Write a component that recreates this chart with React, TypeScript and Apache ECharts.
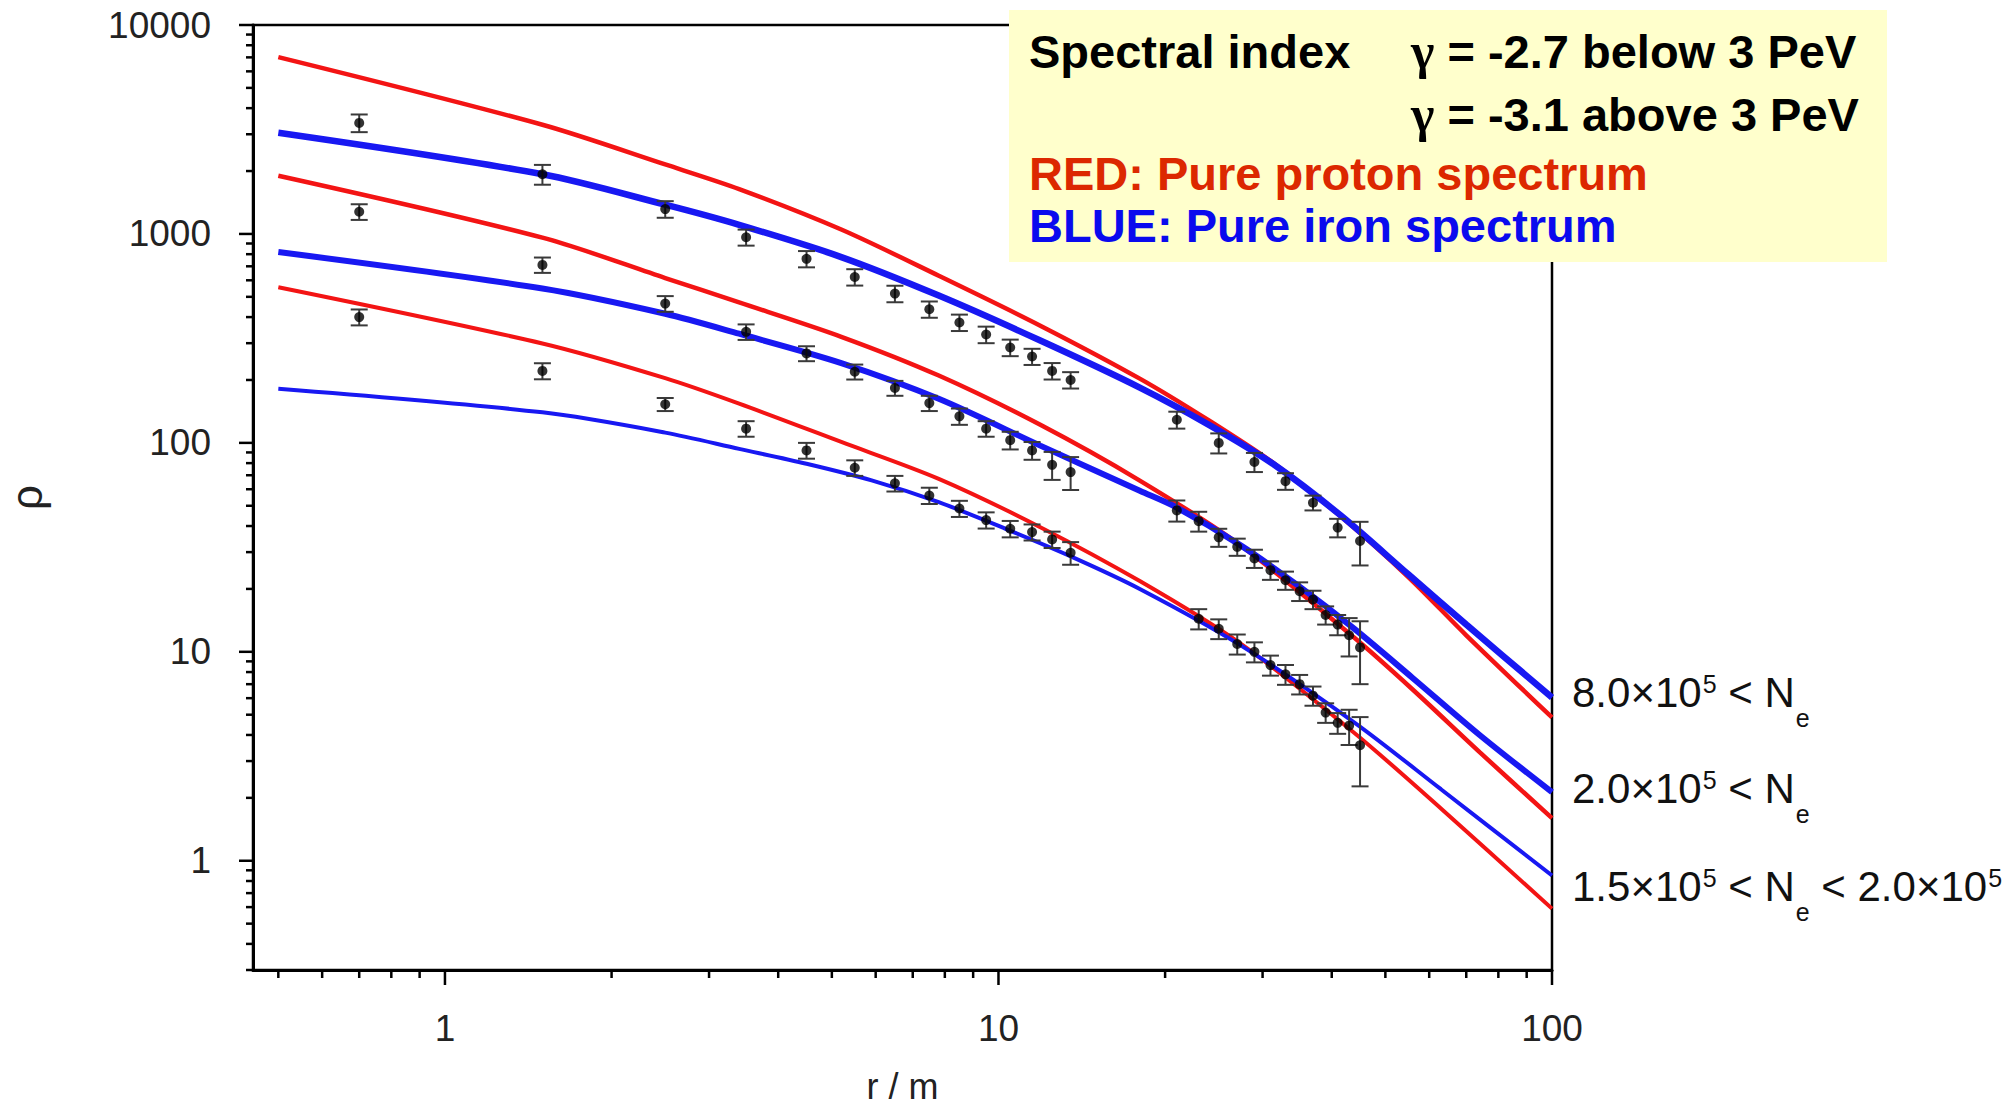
import React, { useEffect, useRef } from 'react';
import * as echarts from 'echarts';

const FONT = 'Liberation Sans, Arial, Helvetica, sans-serif';
const SERIF = 'Liberation Serif, Times New Roman, serif';

// axis ranges and tick values
const X_MIN = 0.45;
const X_MAX = 100;
const Y_MIN = 0.3;
const Y_MAX = 10000;
const X_MAJOR = [1, 10, 100];
const Y_MAJOR = [1, 10, 100, 1000, 10000];
const X_MINOR = [0.5, 0.6, 0.7, 0.8, 0.9, 2, 3, 4, 5, 6, 7, 8, 9, 20, 30, 40, 50, 60, 70, 80, 90];
const Y_MINOR = [
  0.3, 0.4, 0.5, 0.6, 0.7, 0.8, 0.9,
  2, 3, 4, 5, 6, 7, 8, 9,
  20, 30, 40, 50, 60, 70, 80, 90,
  200, 300, 400, 500, 600, 700, 800, 900,
  2000, 3000, 4000, 5000, 6000, 7000, 8000, 9000,
];

// measured radii (m)
const rInner = [0.7, 1.5, 2.5, 3.5, 4.5, 5.5, 6.5, 7.5, 8.5, 9.5, 10.5, 11.5, 12.5, 13.5];
const rOuterHigh = [21, 25, 29, 33, 37, 41, 45];
const rOuterMid = [21, 23, 25, 27, 29, 31, 33, 35, 37, 39, 41, 43, 45];
const rOuterLow = [23, 25, 27, 29, 31, 33, 35, 37, 39, 41, 43, 45];

// measured densities and errors: 8.0e5 < Ne
const rhoHigh = [3400, 1930, 1315, 964, 760, 622, 518, 436, 377, 330, 286, 259, 221, 200, 129, 100, 81, 65.6, 51.7, 39.3, 33.9];
const errHigh = [330, 210, 120, 85, 68, 56, 47, 39, 34, 30, 26, 23, 20, 18, 12, 11, 8.5, 6, 4.2, 4, 8];
// 2.0e5 < Ne
const rhoMid = [1277, 711, 464, 340, 268, 219, 183, 155, 134, 117, 103, 92, 78.5, 72.5, 47.5, 42.2, 35.3, 31.8, 28, 24.6, 22, 19.5, 17.8, 15, 13.5, 12, 10.5];
const errMid = [110, 60, 40, 29, 22, 18, 15, 13, 12, 10, 10, 9, 12, 13, 5.5, 4.6, 3.5, 3, 2.8, 2.5, 2.2, 2, 1.8, 1.5, 1.5, 2.5, 3.5];
// 1.5e5 < Ne < 2.0e5
const rhoLow = [400, 221, 153, 117, 92, 76, 64, 56, 48.5, 42.7, 38.8, 37.4, 34.5, 29.8, 14.4, 12.9, 10.9, 10, 8.64, 7.8, 7, 6.17, 5.12, 4.57, 4.43, 3.57];
const errLow = [35, 19.5, 11, 10, 8, 6.5, 5.5, 5, 4.3, 3.8, 3.5, 3.3, 3.1, 3.7, 1.6, 1.4, 1.2, 1.1, 0.95, 0.85, 0.75, 0.65, 0.55, 0.52, 0.85, 1.3];

// simulated curves [r, rho]
const protonHigh = [[0.5, 7020], [1.5, 3330], [2.5, 2150], [3.4, 1640], [5.2, 1050], [7.8, 631], [11.9, 364], [18, 203], [24, 128], [31.4, 80], [41.5, 44.5], [55, 22.8], [70, 12], [100, 4.85]];
const ironHigh = [[0.5, 3050], [1.5, 1930], [2.5, 1380], [3.4, 1105], [5.2, 775], [7.8, 507], [11.9, 309], [18, 184], [24, 122], [31.4, 79], [41.5, 45], [55, 23.5], [70, 13.5], [100, 6.05]];
const protonMid = [[0.5, 1900], [1.5, 960], [2.5, 615], [3.4, 470], [5.2, 322], [7.8, 210], [11.9, 122], [18, 66], [27.3, 32.5], [43.9, 11.7], [56, 6.6], [74, 3.31], [100, 1.6]];
const ironMid = [[0.5, 819], [1.5, 548], [2.5, 415], [3.4, 333], [5.2, 241], [7.8, 162.5], [11.9, 97], [18, 59], [21, 49], [27.3, 32.5], [35, 20.5], [43.9, 12.9], [56, 7.5], [74, 4.0], [100, 2.13]];
const protonLow = [[0.5, 556], [1.5, 299], [2.5, 204], [3.4, 154], [5.2, 101], [7.8, 67.3], [11.9, 39.5], [18, 21.8], [27.3, 11], [43.9, 4.1], [63, 1.78], [100, 0.59]];
const ironLow = [[0.5, 181.6], [1.5, 140], [2.5, 112], [3.4, 93.6], [4.5, 79.4], [5.9, 66.1], [7.8, 52], [10.3, 38.8], [13.6, 28.4], [18, 20], [27.3, 10.8], [43.9, 4.6], [63, 2.2], [100, 0.85]];

const RED = '#f31414';
const BLUE = '#1818f2';

function lineSeries(name: string, pts: number[][], color: string, width: number) {
  return {
    type: 'line',
    name,
    data: pts,
    showSymbol: false,
    symbol: 'none',
    smooth: 0.3,
    silent: true,
    lineStyle: { color, width },
    z: 2,
  };
}

function errorSeries(xs: number[], ys: number[], es: number[]) {
  return {
    type: 'custom',
    coordinateSystem: 'cartesian2d',
    data: xs.map((x, i) => [x, ys[i], es[i]]),
    encode: { x: 0, y: 1 },
    clip: false,
    silent: true,
    z: 3,
    renderItem: (_p: any, api: any) => {
      const x = api.value(0);
      const y = api.value(1);
      const e = api.value(2);
      const hi = api.coord([x, y + e]);
      const lo = api.coord([x, y - e]);
      const w = 8.5;
      const st = { stroke: '#3a3a3a', lineWidth: 2 };
      return {
        type: 'group',
        children: [
          { type: 'line', shape: { x1: hi[0], y1: hi[1], x2: lo[0], y2: lo[1] }, style: st },
          { type: 'line', shape: { x1: hi[0] - w, y1: hi[1], x2: hi[0] + w, y2: hi[1] }, style: st },
          { type: 'line', shape: { x1: lo[0] - w, y1: lo[1], x2: lo[0] + w, y2: lo[1] }, style: st },
        ],
      };
    },
  };
}

function pointSeries(xs: number[], ys: number[]) {
  return {
    type: 'scatter',
    data: xs.map((x, i) => [x, ys[i]]),
    symbol: 'circle',
    symbolSize: 10,
    itemStyle: { color: '#000' },
    silent: true,
    z: 4,
  };
}

function tickData() {
  const out: number[][] = [];
  X_MAJOR.forEach((v) => out.push([v, 1, 0, 1]));
  X_MINOR.forEach((v) => out.push([v, 1, 0, 0]));
  Y_MAJOR.forEach((v) => out.push([1, v, 1, 1]));
  Y_MINOR.forEach((v) => out.push([1, v, 1, 0]));
  return out;
}

function powerLabel(v: number) {
  const l = Math.log10(v);
  const r = Math.round(l);
  if (Math.abs(l - r) < 1e-3) return String(Math.round(Math.pow(10, r)));
  return '';
}

function rightLabel(text: string, y: number) {
  return {
    type: 'text',
    x: 1572,
    y,
    z: 20,
    style: {
      text,
      fill: '#111',
      textAlign: 'left',
      textVerticalAlign: 'middle',
      rich: {
        m: { fontSize: 42, fontFamily: FONT, lineHeight: 77, verticalAlign: 'middle' },
        s: { fontSize: 25, fontFamily: FONT, lineHeight: 25, verticalAlign: 'top', padding: [18, 0, 0, 1] },
        b: { fontSize: 25, fontFamily: FONT, lineHeight: 25, verticalAlign: 'bottom', padding: [0, 0, 0, 1] },
      },
    },
  };
}

function legendText(text: string, x: number, y: number, color: string) {
  return {
    type: 'text',
    x,
    y,
    z: 20,
    style: {
      text,
      fill: color,
      fontSize: 47,
      fontWeight: 'bold',
      fontFamily: FONT,
      textAlign: 'left',
      textVerticalAlign: 'middle',
      rich: {
        t: { fontSize: 47, fontWeight: 'bold', fontFamily: FONT, lineHeight: 56, verticalAlign: 'middle' },
        g: { fontSize: 50, fontWeight: 'bold', fontFamily: SERIF, lineHeight: 56, verticalAlign: 'middle' },
      },
    },
  };
}

export default function App() {
  const ref = useRef<HTMLDivElement>(null);
  useEffect(() => {
    document.body.style.margin = '0';
    const chart = echarts.init(ref.current as HTMLDivElement, undefined, { renderer: 'svg' });
    const option: any = {
      animation: false,
      backgroundColor: '#ffffff',
      textStyle: { fontFamily: FONT },
      grid: {
        left: 253,
        top: 25,
        right: 463,
        bottom: 135,
        outerBoundsMode: 'none',
        containLabel: false,
        show: true,
        borderColor: '#000',
        borderWidth: 2.5,
        backgroundColor: 'transparent',
      },
      xAxis: {
        type: 'log',
        logBase: 10,
        min: X_MIN,
        max: X_MAX,
        name: 'r / m',
        nameLocation: 'middle',
        nameGap: 98,
        nameTextStyle: { fontSize: 36, color: '#222', fontFamily: FONT, lineHeight: 36 },
        axisLine: { show: true, lineStyle: { color: '#000', width: 3 } },
        axisTick: { show: false },
        splitLine: { show: false },
        axisLabel: { fontSize: 37, color: '#222', margin: 40, formatter: powerLabel, fontFamily: FONT },
      },
      yAxis: {
        type: 'log',
        logBase: 10,
        min: Y_MIN,
        max: Y_MAX,
        name: 'ρ',
        nameLocation: 'middle',
        nameGap: 205,
        nameTextStyle: { fontSize: 44, color: '#222', fontFamily: FONT },
        axisLine: { show: true, lineStyle: { color: '#000', width: 3 } },
        axisTick: { show: false },
        splitLine: { show: false },
        axisLabel: { fontSize: 37, color: '#222', margin: 42, formatter: powerLabel, fontFamily: FONT },
      },
      series: [
        lineSeries('proton 8.0e5', protonHigh, RED, 4.5),
        lineSeries('proton 2.0e5', protonMid, RED, 4.5),
        lineSeries('proton 1.5e5', protonLow, RED, 4),
        lineSeries('iron 8.0e5', ironHigh, BLUE, 6.5),
        lineSeries('iron 2.0e5', ironMid, BLUE, 6),
        lineSeries('iron 1.5e5', ironLow, BLUE, 4),
        errorSeries([...rInner, ...rOuterHigh], rhoHigh, errHigh),
        errorSeries([...rInner, ...rOuterMid], rhoMid, errMid),
        errorSeries([...rInner, ...rOuterLow], rhoLow, errLow),
        pointSeries([...rInner, ...rOuterHigh], rhoHigh),
        pointSeries([...rInner, ...rOuterMid], rhoMid),
        pointSeries([...rInner, ...rOuterLow], rhoLow),
        {
          type: 'custom',
          coordinateSystem: 'cartesian2d',
          data: tickData(),
          encode: { x: 0, y: 1 },
          clip: false,
          silent: true,
          z: 6,
          renderItem: (_p: any, api: any) => {
            const axis = api.value(2);
            const major = api.value(3) === 1;
            const st = { stroke: '#000', lineWidth: 2.5 };
            if (axis === 0) {
              const p = api.coord([api.value(0), Y_MIN]);
              const len = major ? 15 : 8;
              return { type: 'line', shape: { x1: p[0], y1: p[1], x2: p[0], y2: p[1] + len }, style: st };
            }
            const p = api.coord([X_MIN, api.value(1)]);
            const len = major ? 14 : 7;
            return { type: 'line', shape: { x1: p[0] - len, y1: p[1], x2: p[0], y2: p[1] }, style: st };
          },
        },
      ],
      graphic: [
        { type: 'rect', z: 10, shape: { x: 1009, y: 10, width: 878, height: 252 }, style: { fill: '#ffffcc' } },
        legendText('{t|Spectral index}', 1029, 51, '#000'),
        legendText('{g|γ}{t| = -2.7 below 3 PeV}', 1411, 51, '#000'),
        legendText('{g|γ}{t| = -3.1 above 3 PeV}', 1411, 114, '#000'),
        legendText('{t|RED: Pure proton spectrum}', 1029, 173, '#dc2800'),
        legendText('{t|BLUE: Pure iron spectrum}', 1029, 225, '#0a0aee'),
        rightLabel('{m|8.0×10}{s|5}{m| < N}{b|e}', 692),
        rightLabel('{m|2.0×10}{s|5}{m| < N}{b|e}', 788),
        rightLabel('{m|1.5×10}{s|5}{m| < N}{b|e}{m| < 2.0×10}{s|5}', 886),
      ],
    };
    chart.setOption(option);
    return () => chart.dispose();
  }, []);
  return <div ref={ref} style={{ width: 2015, height: 1105 }} />;
}
